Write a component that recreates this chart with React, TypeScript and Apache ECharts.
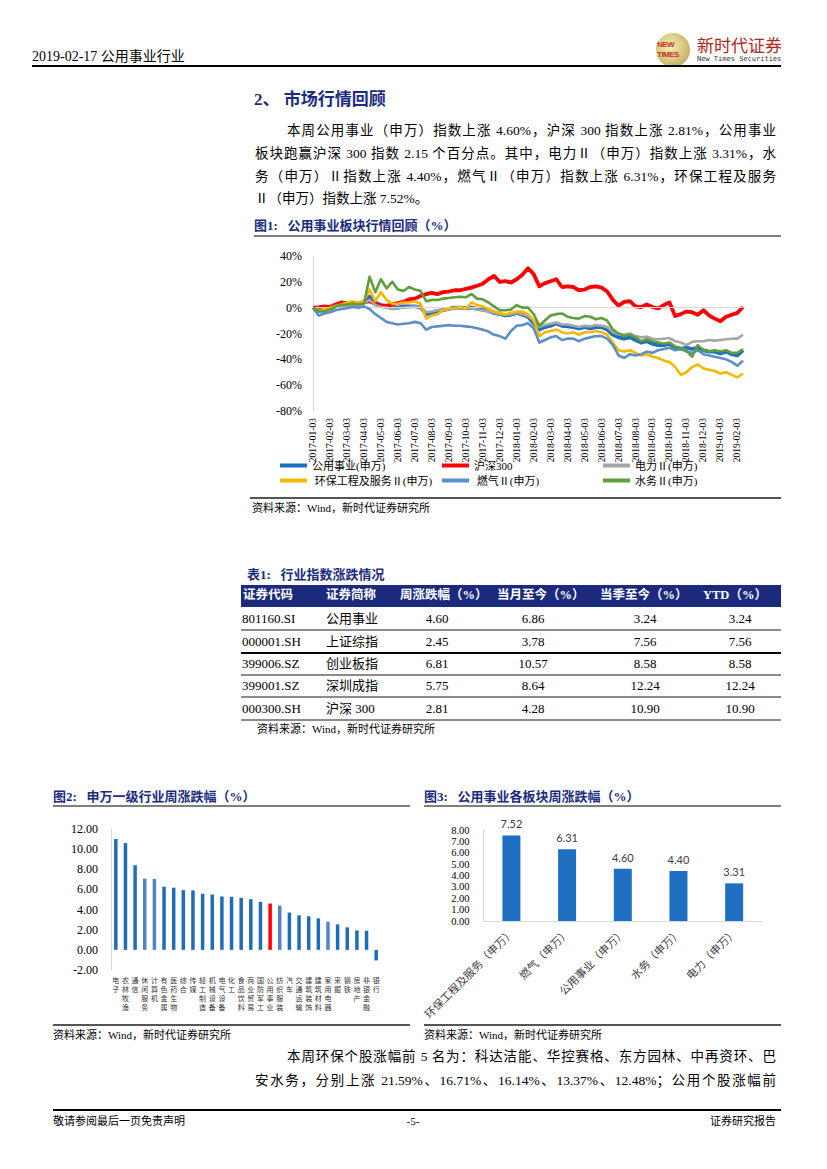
import React, { useEffect, useRef } from "react";
import * as echarts from "echarts";

// ---------- Chart 1: 公用事业板块行情回顾（%） ----------
const dates = [
  "2017-01-03", "2017-01-13", "2017-01-23", "2017-02-03", "2017-02-13", "2017-02-23",
  "2017-03-03", "2017-03-13", "2017-03-23", "2017-04-03", "2017-04-13", "2017-04-23",
  "2017-05-03", "2017-05-13", "2017-05-23", "2017-06-03", "2017-06-13", "2017-06-23",
  "2017-07-03", "2017-07-13", "2017-07-23", "2017-08-03", "2017-08-13", "2017-08-23",
  "2017-09-03", "2017-09-13", "2017-09-23", "2017-10-03", "2017-10-13", "2017-10-23",
  "2017-11-03", "2017-11-13", "2017-11-23", "2017-12-03", "2017-12-13", "2017-12-23",
  "2018-01-03", "2018-01-13", "2018-01-23", "2018-02-03", "2018-02-13", "2018-02-23",
  "2018-03-03", "2018-03-13", "2018-03-23", "2018-04-03", "2018-04-13", "2018-04-23",
  "2018-05-03", "2018-05-13", "2018-05-23", "2018-06-03", "2018-06-13", "2018-06-23",
  "2018-07-03", "2018-07-13", "2018-07-23", "2018-08-03", "2018-08-13", "2018-08-23",
  "2018-09-03", "2018-09-13", "2018-09-23", "2018-10-03", "2018-10-13", "2018-10-23",
  "2018-11-03", "2018-11-13", "2018-11-23", "2018-12-03", "2018-12-13", "2018-12-23",
  "2019-01-03", "2019-01-13", "2019-01-23", "2019-02-03", "2019-02-13",
];

const utility = [
  0, -2.5, -2, -1, 1, 1.5, 1.5, 2, 2.5, 4, 8.5, 4, 2, 1, -0.5, 0, 1, 1,
  1, 0.5, -5, -4, -2.5, -2, -1, 0, 0, -0.5, 0, -1, -1.5, -2.5, -4, -5, -6, -5.5,
  -4, -5.5, -7, -12, -17, -15, -14, -12, -14, -14.5, -15, -16, -15, -16, -15, -15, -17, -21,
  -23, -24, -23, -25, -27, -26, -28, -29, -29, -28, -31, -32, -31, -32, -31, -33, -34, -34,
  -35.5, -34, -36, -37, -33,
];
const hs300 = [
  0, 0.3, 1, 0.5, 2.5, 4, 3.5, 3.5, 3.5, 4, 5, 3, 1.5, 1.5, 2.5, 3.5, 4.5, 6.5,
  7, 9, 10.5, 11.5, 10.5, 12, 12.5, 13.5, 13.5, 14.5, 15.5, 17, 18.5, 22, 24.5, 20, 20.5, 19.5,
  22, 25.5, 30.5, 26, 16.5, 19, 20.5, 22, 16, 16.5, 16, 13.5, 14, 16, 16.5, 15.5, 12.5, 6,
  1.5, 4.5, 5, 1, 0.5, 2.5, 0.5, -0.5, 2, 4, -6.5, -5, -3, -3.5, -5.5, -2, -6, -8.5,
  -10.5, -7, -5.5, -4, 0.5,
];
const power = [
  0, -2, -1.5, -0.5, 1, 1.5, 1.5, 2, 2, 3.5, 6, 2, 0.5, 0, -1, -0.5, 0, 0.5,
  1, 0.5, -3.5, -3, -2, -1.5, -1, -0.5, 0, -0.5, -0.5, -1.5, -2, -3, -4, -5, -5.5, -5,
  -4, -5, -6.5, -10, -15, -13.5, -12.5, -11.5, -13, -13, -14, -15, -14, -14.5, -13.5, -14, -15, -19,
  -20.5, -21, -20, -22, -23, -22.5, -24, -24.5, -24, -23.5, -26, -27, -29, -26.5, -26, -26, -25, -25.5,
  -25, -24.5, -24, -24, -21,
];
const envir = [
  0, -2, -1.5, 0, 1.5, 2.5, 4, 5, 4, 5, 14, 5, 12, 6, 3, 3, 4, 4,
  5, 3, -8.5, -6, -5, -2, -1, 0, 0.5, -1, 4, 2, 1, -1, -3, -4, -5.5, -4,
  -3, -3, -5, -10, -22, -19, -18, -17, -19, -20, -19, -21, -19, -19, -18, -19, -21, -27,
  -33, -34, -33, -35, -37, -36, -38, -39, -41, -42, -46, -52, -50, -46, -44, -47, -48, -49,
  -51, -50, -52, -54, -51,
];
const gas = [
  0, -6, -4.5, -3.5, -2, -1, -0.5, 0.5, 0, 1, -1, -5, -8, -11, -12, -13, -12.5, -12,
  -11, -12, -17, -15, -14.5, -14, -13.5, -14, -14, -14.5, -15, -16, -17, -18.5, -21, -22, -24, -18,
  -14, -13.5, -12, -16, -27, -25, -23, -22, -25, -24, -24, -26, -24, -23, -22, -22, -24, -29,
  -37, -39, -36, -37, -36, -34, -35, -33, -32, -31, -33, -32, -34, -35, -33, -36, -37, -38,
  -39, -40, -42, -45, -41,
];
const water = [
  0, -2.5, -3, -1.5, 1, 2, 2.5, 3, 2.5, 3, 24, 12, 22, 15, 20, 14, 13, 16,
  14, 13, 5, 6, 6, 7, 7.5, 8, 8.5, 8, 10.5, 7, 6.5, 4, 1, -2, -2, -1.5,
  2, 0, 0, -5, -14, -10, -6, -5, -4.5, -7, -8, -8.5, -6.5, -7, -9, -8, -10, -17,
  -20, -22, -21, -23, -26, -24.5, -26, -27, -28, -27, -30, -31, -33, -38, -29, -33, -34, -33,
  -34, -33, -35, -35, -32,
];
const lineNames = ["公用事业(申万)", "沪深300", "电力Ⅱ(申万)", "环保工程及服务Ⅱ(申万)", "燃气Ⅱ(申万)", "水务Ⅱ(申万)"];
const lineValues = [utility, hs300, power, envir, gas, water];

// ---------- Chart 2: 申万一级行业周涨跌幅（%） ----------
const industries = [
  "电子", "农林牧渔", "通信", "休闲服务", "计算机", "有色金属", "医药生物", "综合", "传媒", "轻工制造",
  "机械设备", "电气设备", "化工", "食品饮料", "商业贸易", "国防军工", "公用事业", "纺织服装", "汽车", "交通运输",
  "建筑装饰", "建筑材料", "家用电器", "采掘", "钢铁", "房地产", "非银金融", "银行",
];
const industryChange = [
  11.0, 10.6, 8.4, 7.07, 7.03, 6.27, 6.17, 5.93, 5.9, 5.57,
  5.5, 5.3, 5.27, 5.17, 5.03, 4.77, 4.6, 4.4, 3.7, 3.43,
  3.33, 3.13, 2.8, 2.53, 2.23, 1.93, 1.9, -1.05,
];
const industryTicks = [-2, 0, 2, 4, 6, 8, 10, 12];

// ---------- Chart 3: 公用事业各板块周涨跌幅（%） ----------
const sectors = ["环保工程及服务（申万）", "燃气（申万）", "公用事业（申万）", "水务（申万）", "电力（申万）"];
const sectorChange = [7.52, 6.31, 4.6, 4.4, 3.31];

// ---------- Table ----------
const tableHeader = ["证券代码", "证券简称", "周涨跌幅（%）", "当月至今（%）", "当季至今（%）", "YTD（%）"];
const tableCodes = ["801160.SI", "000001.SH", "399006.SZ", "399001.SZ", "000300.SH"];
const tableNames = ["公用事业", "上证综指", "创业板指", "深圳成指", "沪深 300"];
const tableWeek = ["4.60", "2.45", "6.81", "5.75", "2.81"];
const tableMonth = ["6.86", "3.78", "10.57", "8.64", "4.28"];
const tableQuarter = ["3.24", "7.56", "8.58", "12.24", "10.90"];
const tableYtd = ["3.24", "7.56", "8.58", "12.24", "10.90"];

const serif = '"Liberation Serif", "Times New Roman", "Noto Sans CJK SC", serif';
const navy = "#1B2C80";

function useChart(makeOption: () => any) {
  const ref = useRef<HTMLDivElement>(null);
  useEffect(() => {
    const chart = echarts.init(ref.current as HTMLDivElement, undefined, { renderer: "svg" });
    chart.setOption(makeOption());
    return () => chart.dispose();
  }, []);
  return ref;
}

const lineColors = ["#1A70BF", "#FF0000", "#A6A6A6", "#F5B800", "#5B8FC9", "#5E9E3C"];
const lineWidths = [3.8, 3.8, 2.6, 2.6, 2.6, 2.6];

function lineOption() {
  const legendPos = [
    { left: 30, top: 220 }, { left: 192, top: 220 }, { left: 353, top: 220 },
    { left: 30, top: 235 }, { left: 192, top: 235 }, { left: 353, top: 235 },
  ];
  return {
    animation: false,
    grid: { left: 63, top: 16, width: 430, height: 155 },
    xAxis: {
      type: "category",
      data: dates,
      boundaryGap: false,
      axisLine: { show: false },
      axisTick: { show: false },
      axisLabel: { rotate: 90, interval: 2, fontSize: 9.5, fontFamily: serif, color: "#000", margin: 7 },
    },
    yAxis: {
      type: "value",
      min: -80,
      max: 40,
      interval: 20,
      axisLine: { show: true, lineStyle: { color: "#D9D9D9" } },
      axisTick: { show: false },
      splitLine: { show: false },
      axisLabel: {
        formatter: "{value}%", fontSize: 12, fontFamily: serif, color: "#000", margin: 11,
        showMinLabel: true, showMaxLabel: true,
      },
    },
    legend: legendPos.map((p, i) => ({
      data: [lineNames[i]],
      left: p.left,
      top: p.top,
      icon: "rect",
      itemWidth: 27,
      itemHeight: 4,
      padding: 0,
      selectedMode: false,
      formatter: i === 3 || i === 4 ? (n: string) => " " + n : (n: string) => n,
      textStyle: { fontSize: 11, fontFamily: serif, color: "#000" },
    })),
    series: [
      {
        type: "line",
        name: "zero",
        data: [],
        z: 1,
        markLine: {
          silent: true,
          symbol: ["none", "none"],
          label: { show: false },
          lineStyle: { color: "#D9D9D9", type: "solid", width: 1 },
          data: [{ yAxis: 0 }],
        },
      },
      ...lineNames.map((name, i) => ({
        type: "line",
        name,
        data: lineValues[i],
        showSymbol: false,
        symbol: "none",
        color: lineColors[i],
        z: 2 + i,
        lineStyle: { width: lineWidths[i], color: lineColors[i], join: "round" },
      })),
    ],
  };
}

const lightBars = [3, 4, 17, 22];

function industryOption() {
  return {
    animation: false,
    grid: { left: 61, top: 19, width: 270, height: 141 },
    xAxis: {
      type: "category",
      data: industries,
      axisLine: { show: false, onZero: false },
      axisTick: { show: false },
      axisLabel: {
        interval: 0,
        fontSize: 7,
        lineHeight: 9,
        fontFamily: '"Noto Sans CJK SC", sans-serif',
        color: "#333",
        margin: 5,
        verticalAlign: "top",
        formatter: (v: string) => v.split("").join("\n"),
      },
    },
    yAxis: {
      type: "value",
      min: industryTicks[0],
      max: industryTicks[industryTicks.length - 1],
      interval: 2,
      axisLine: { show: true, lineStyle: { color: "#D9D9D9" } },
      axisTick: { show: false },
      splitLine: { show: false },
      axisLabel: {
        formatter: (v: number) => v.toFixed(2), fontSize: 12, fontFamily: serif, color: "#000", margin: 13,
        showMinLabel: true, showMaxLabel: true,
      },
    },
    series: [
      {
        type: "bar",
        barWidth: 3.5,
        data: industryChange.map((v, i) => ({
          value: v,
          itemStyle: {
            color: industries[i] === "公用事业" ? "#FF0000" : lightBars.includes(i) ? "#4F86C4" : "#1F6DB6",
          },
        })),
      },
    ],
  };
}

function sectorOption() {
  return {
    animation: false,
    grid: { left: 62, top: 20, width: 280, height: 91 },
    xAxis: {
      type: "category",
      data: sectors,
      axisLine: { show: true, lineStyle: { color: "#D9D9D9" } },
      axisTick: { show: false },
      axisLabel: {
        interval: 0,
        rotate: 45,
        fontSize: 11,
        fontFamily: '"Noto Sans CJK SC", sans-serif',
        color: "#404040",
        margin: 9,
      },
    },
    yAxis: {
      type: "value",
      min: 0,
      max: 8,
      interval: 1,
      axisLine: { show: true, lineStyle: { color: "#D9D9D9" } },
      axisTick: { show: false },
      splitLine: { show: false },
      axisLabel: {
        formatter: (v: number) => v.toFixed(2),
        fontSize: 10.5,
        lineHeight: 10.5,
        fontFamily: serif,
        color: "#000",
        margin: 14,
        showMinLabel: true,
        showMaxLabel: true,
        hideOverlap: false,
      },
    },
    series: [
      {
        type: "bar",
        barWidth: 18,
        itemStyle: { color: "#1F6FC2" },
        label: {
          show: true,
          position: "top",
          distance: 6,
          fontSize: 11,
          fontFamily: "Lato, sans-serif",
          color: "#404040",
          formatter: (p: any) => Number(p.value).toFixed(2),
        },
        data: sectorChange,
      },
    ],
  };
}

type TProps = { x: number; y: number; size: number; children: React.ReactNode; style?: React.CSSProperties };
function T({ x, y, size, children, style }: TProps) {
  return (
    <div
      style={{
        position: "absolute",
        left: x,
        top: y - size * 0.7,
        fontSize: size,
        lineHeight: `${size * 1.4}px`,
        whiteSpace: "nowrap",
        fontFamily: serif,
        color: "#000",
        ...style,
      }}
    >
      {children}
    </div>
  );
}

function J({ x, y, w, size, children, last = true }: { x: number; y: number; w: number; size: number; children: React.ReactNode; last?: boolean }) {
  return (
    <div
      style={{
        position: "absolute",
        left: x,
        top: y - size * 0.7,
        width: w,
        fontSize: size,
        lineHeight: `${size * 1.4}px`,
        fontFamily: serif,
        color: "#000",
        textAlign: "justify",
        textAlignLast: last ? "justify" : "left",
        whiteSpace: "nowrap",
      }}
    >
      {children}
    </div>
  );
}

function Rule({ x1, x2, y, w = 1, color = "#000" }: { x1: number; x2: number; y: number; w?: number; color?: string }) {
  return <div style={{ position: "absolute", left: x1, top: y - w / 2, width: x2 - x1, height: w, background: color }} />;
}

export default function App() {
  const c1 = useChart(lineOption);
  const c2 = useChart(industryOption);
  const c3 = useChart(sectorOption);

  const colCenters = [437, 533, 645, 740];
  const rowYs = [619, 642, 664, 686, 709];
  const rowLines = [630, 653, 675, 697, 720];

  return (
    <div style={{ position: "absolute", left: 0, top: 0, width: 827, height: 1169, background: "#fff", overflow: "hidden" }}>
      {/* header */}
      <T x={32} y={57} size={14}>2019-02-17 公用事业行业</T>
      <div
        style={{
          position: "absolute", left: 656, top: 33, width: 34, height: 34, borderRadius: 17,
          background: "radial-gradient(circle at 40% 40%, #F6EDB8, #D4C377 55%, #9C9458)",
        }}
      />
      <T x={657} y={45} size={8} style={{ color: "#C8322B", fontFamily: "Liberation Sans, sans-serif", fontWeight: "bold", letterSpacing: -0.5 }}>NEW</T>
      <T x={657} y={55} size={8} style={{ color: "#C8322B", fontFamily: "Liberation Sans, sans-serif", fontWeight: "bold", letterSpacing: -0.5 }}>TIMES</T>
      <T x={697} y={45} size={17} style={{ color: "#B3261E", fontFamily: '"Noto Sans CJK SC", sans-serif' }}>新时代证券</T>
      <T x={697} y={60} size={7} style={{ color: "#333", fontFamily: '"DejaVu Sans Mono", monospace' }}>New Times Securities</T>
      <Rule x1={32} x2={781} y={66} w={1.5} />

      {/* section heading */}
      <T x={254} y={100} size={17} style={{ color: navy, fontWeight: "bold" }}>2、 市场行情回顾</T>
      <J x={287} y={131} w={489} size={13.5}>本周公用事业（申万）指数上涨 4.60%，沪深 300 指数上涨 2.81%，公用事业</J>
      <J x={255} y={154} w={521} size={13.5}>板块跑赢沪深 300 指数 2.15 个百分点。其中，电力Ⅱ（申万）指数上涨 3.31%，水</J>
      <J x={255} y={177} w={521} size={13.5}>务（申万）Ⅱ指数上涨 4.40%，燃气Ⅱ（申万）指数上涨 6.31%，环保工程及服务</J>
      <J x={255} y={199} w={521} size={13.5} last={false}>Ⅱ（申万）指数上涨 7.52%。</J>

      <T x={254} y={226} size={13} style={{ color: navy, fontWeight: "bold" }}>图1:&nbsp;&nbsp;&nbsp;公用事业板块行情回顾（%）</T>
      <Rule x1={254} x2={781} y={236} w={2} color="#7F7F7F" />
      <div ref={c1} style={{ position: "absolute", left: 250, top: 240, width: 540, height: 256 }} />
      <Rule x1={250} x2={781} y={498} w={1.5} color="#555" />
      <T x={252} y={509} size={11}>资料来源：Wind，新时代证券研究所</T>

      {/* table */}
      <T x={247} y={575} size={13} style={{ color: navy, fontWeight: "bold" }}>表1:&nbsp;&nbsp;&nbsp;行业指数涨跌情况</T>
      <div style={{ position: "absolute", left: 241, top: 585, width: 540, height: 22, background: "#1C2A7D" }} />
      {tableHeader.map((h, i) => (
        <T key={h} x={[243, 326, 400, 497, 600, 703][i]} y={596} size={12.5} style={{ color: "#fff", fontWeight: "bold" }}>
          {h}
        </T>
      ))}
      {tableCodes.map((code, r) => (
        <React.Fragment key={code}>
          <T x={242} y={rowYs[r]} size={13}>{code}</T>
          <T x={326} y={rowYs[r]} size={13}>{tableNames[r]}</T>
          {[tableWeek, tableMonth, tableQuarter, tableYtd].map((col, c) => (
            <T key={c} x={colCenters[c] - 40} y={rowYs[r]} size={13} style={{ width: 80, textAlign: "center" }}>
              {col[r]}
            </T>
          ))}
          <Rule x1={241} x2={781} y={rowLines[r]} w={1.5} color={r === 1 ? "#000" : "#8C8C8C"} />
        </React.Fragment>
      ))}
      <T x={257} y={730} size={11}>资料来源：Wind，新时代证券研究所</T>

      {/* figure 2 */}
      <T x={53} y={797} size={13} style={{ color: navy, fontWeight: "bold" }}>图2:&nbsp;&nbsp;&nbsp;申万一级行业周涨跌幅（%）</T>
      <Rule x1={53} x2={410} y={806} w={2} color="#7F7F7F" />
      <div ref={c2} style={{ position: "absolute", left: 50, top: 810, width: 362, height: 212 }} />
      <Rule x1={53} x2={410} y={1025} w={1.5} color="#555" />
      <T x={53} y={1036} size={11}>资料来源：Wind，新时代证券研究所</T>

      {/* figure 3 */}
      <T x={424} y={797} size={13} style={{ color: navy, fontWeight: "bold" }}>图3:&nbsp;&nbsp;&nbsp;公用事业各板块周涨跌幅（%）</T>
      <Rule x1={424} x2={781} y={806} w={2} color="#7F7F7F" />
      <div ref={c3} style={{ position: "absolute", left: 420, top: 810, width: 362, height: 212 }} />
      <Rule x1={424} x2={781} y={1025} w={1.5} color="#555" />
      <T x={424} y={1036} size={11}>资料来源：Wind，新时代证券研究所</T>

      {/* body text */}
      <J x={287} y={1057} w={489} size={13.5}>本周环保个股涨幅前 5 名为：科达洁能、华控赛格、东方园林、中再资环、巴</J>
      <J x={255} y={1081} w={521} size={13.5}>安水务，分别上涨 21.59%、16.71%、16.14%、13.37%、12.48%；公用个股涨幅前</J>

      {/* footer */}
      <Rule x1={53} x2={781} y={1110} w={1.5} />
      <T x={53} y={1122} size={11}>敬请参阅最后一页免责声明</T>
      <T x={393} y={1122} size={11} style={{ width: 40, textAlign: "center" }}>-5-</T>
      <T x={676} y={1122} size={11} style={{ width: 100, textAlign: "right" }}>证券研究报告</T>
    </div>
  );
}
